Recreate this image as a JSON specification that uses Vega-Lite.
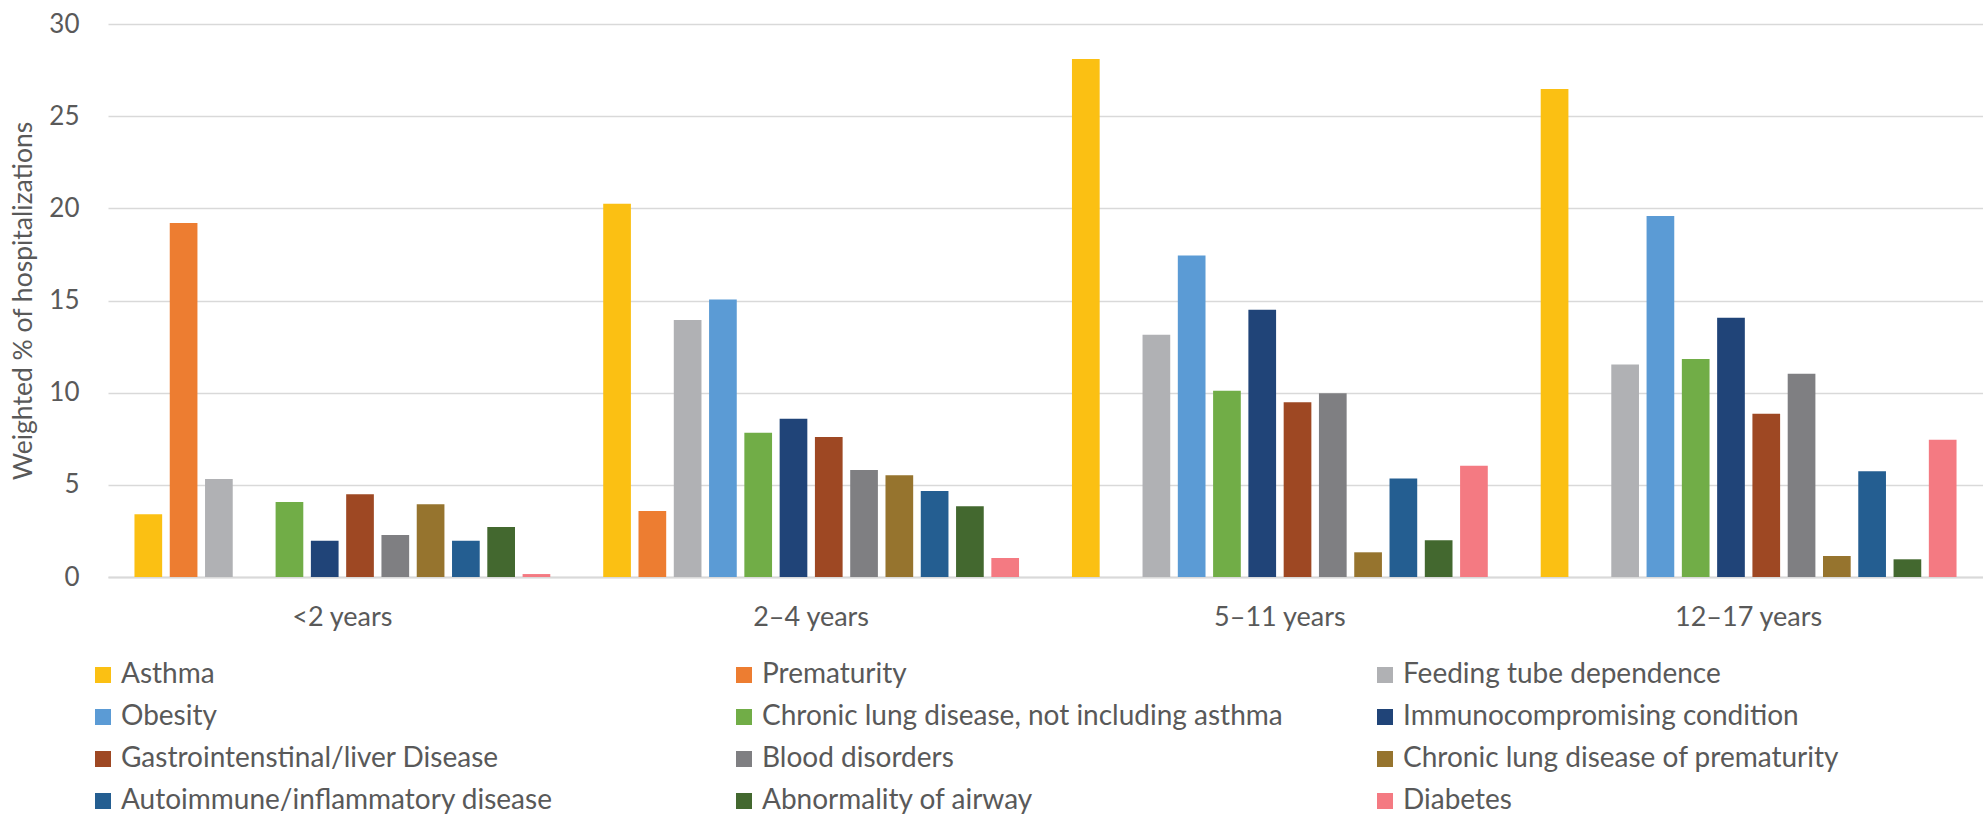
{
  "$schema": "https://vega.github.io/schema/vega-lite/v6.json",
  "autosize": {"type": "none"},
  "padding": {"left": 108, "top": 24, "right": 0, "bottom": 241},
  "width": 1875,
  "height": 553,
  "background": "white",
  "config": {
    "font": "Lato",
    "view": {"stroke": null},
    "axis": {"labelFont": "Lato", "titleFont": "Lato"},
    "legend": {"labelFont": "Lato"}
  },
  "data": {
    "values": [
      {"age": "<2 years", "condition": "Asthma", "pct": 3.4},
      {"age": "<2 years", "condition": "Prematurity", "pct": 19.2},
      {"age": "<2 years", "condition": "Feeding tube dependence", "pct": 5.32},
      {"age": "<2 years", "condition": "Chronic lung disease, not including asthma", "pct": 4.07},
      {"age": "<2 years", "condition": "Immunocompromising condition", "pct": 1.97},
      {"age": "<2 years", "condition": "Gastrointenstinal/liver Disease", "pct": 4.49},
      {"age": "<2 years", "condition": "Blood disorders", "pct": 2.28},
      {"age": "<2 years", "condition": "Chronic lung disease of prematurity", "pct": 3.95},
      {"age": "<2 years", "condition": "Autoimmune/inflammatory disease", "pct": 1.97},
      {"age": "<2 years", "condition": "Abnormality of airway", "pct": 2.71},
      {"age": "<2 years", "condition": "Diabetes", "pct": 0.16},
      {"age": "2–4 years", "condition": "Asthma", "pct": 20.25},
      {"age": "2–4 years", "condition": "Prematurity", "pct": 3.58},
      {"age": "2–4 years", "condition": "Feeding tube dependence", "pct": 13.94},
      {"age": "2–4 years", "condition": "Obesity", "pct": 15.06},
      {"age": "2–4 years", "condition": "Chronic lung disease, not including asthma", "pct": 7.82},
      {"age": "2–4 years", "condition": "Immunocompromising condition", "pct": 8.58},
      {"age": "2–4 years", "condition": "Gastrointenstinal/liver Disease", "pct": 7.6},
      {"age": "2–4 years", "condition": "Blood disorders", "pct": 5.8},
      {"age": "2–4 years", "condition": "Chronic lung disease of prematurity", "pct": 5.52},
      {"age": "2–4 years", "condition": "Autoimmune/inflammatory disease", "pct": 4.67},
      {"age": "2–4 years", "condition": "Abnormality of airway", "pct": 3.84},
      {"age": "2–4 years", "condition": "Diabetes", "pct": 1.03},
      {"age": "5–11 years", "condition": "Asthma", "pct": 28.1},
      {"age": "5–11 years", "condition": "Feeding tube dependence", "pct": 13.14},
      {"age": "5–11 years", "condition": "Obesity", "pct": 17.44},
      {"age": "5–11 years", "condition": "Chronic lung disease, not including asthma", "pct": 10.1},
      {"age": "5–11 years", "condition": "Immunocompromising condition", "pct": 14.5},
      {"age": "5–11 years", "condition": "Gastrointenstinal/liver Disease", "pct": 9.48},
      {"age": "5–11 years", "condition": "Blood disorders", "pct": 9.97},
      {"age": "5–11 years", "condition": "Chronic lung disease of prematurity", "pct": 1.34},
      {"age": "5–11 years", "condition": "Autoimmune/inflammatory disease", "pct": 5.35},
      {"age": "5–11 years", "condition": "Abnormality of airway", "pct": 1.99},
      {"age": "5–11 years", "condition": "Diabetes", "pct": 6.03},
      {"age": "12–17 years", "condition": "Asthma", "pct": 26.47},
      {"age": "12–17 years", "condition": "Feeding tube dependence", "pct": 11.53},
      {"age": "12–17 years", "condition": "Obesity", "pct": 19.58},
      {"age": "12–17 years", "condition": "Chronic lung disease, not including asthma", "pct": 11.82},
      {"age": "12–17 years", "condition": "Immunocompromising condition", "pct": 14.06},
      {"age": "12–17 years", "condition": "Gastrointenstinal/liver Disease", "pct": 8.85},
      {"age": "12–17 years", "condition": "Blood disorders", "pct": 11.02},
      {"age": "12–17 years", "condition": "Chronic lung disease of prematurity", "pct": 1.14},
      {"age": "12–17 years", "condition": "Autoimmune/inflammatory disease", "pct": 5.74},
      {"age": "12–17 years", "condition": "Abnormality of airway", "pct": 0.96},
      {"age": "12–17 years", "condition": "Diabetes", "pct": 7.45}
    ]
  },
  "mark": {"type": "bar"},
  "encoding": {
    "x": {
      "field": "age",
      "type": "nominal",
      "sort": ["<2 years", "2–4 years", "5–11 years", "12–17 years"],
      "scale": {"paddingInner": 0, "paddingOuter": 0},
      "axis": {
        "title": null,
        "labelAngle": 0,
        "ticks": false,
        "labelPadding": 27,
        "labelFontSize": 27,
        "labelColor": "#595959",
        "domainColor": "#d9d9d9",
        "domainWidth": 2
      }
    },
    "xOffset": {
      "field": "condition",
      "type": "nominal",
      "scale": {
        "domain": ["Asthma", "Prematurity", "Feeding tube dependence", "Obesity", "Chronic lung disease, not including asthma", "Immunocompromising condition", "Gastrointenstinal/liver Disease", "Blood disorders", "Chronic lung disease of prematurity", "Autoimmune/inflammatory disease", "Abnormality of airway", "Diabetes"],
        "paddingInner": 0.215,
        "paddingOuter": 0.75
      }
    },
    "y": {
      "field": "pct",
      "type": "quantitative",
      "scale": {"domain": [0, 30], "nice": false},
      "axis": {
        "title": "Weighted % of hospitalizations",
        "titleFontSize": 26.5,
        "titleFontWeight": "normal",
        "titleColor": "#595959",
        "titlePadding": 11,
        "values": [0, 5, 10, 15, 20, 25, 30],
        "labelFontSize": 26,
        "labelColor": "#595959",
        "labelPadding": 29,
        "ticks": false,
        "domain": false,
        "gridColor": "#d9d9d9",
        "gridWidth": 1.5
      }
    },
    "color": {
      "field": "condition",
      "type": "nominal",
      "scale": {
        "domain": ["Asthma", "Obesity", "Gastrointenstinal/liver Disease", "Autoimmune/inflammatory disease", "Prematurity", "Chronic lung disease, not including asthma", "Blood disorders", "Abnormality of airway", "Feeding tube dependence", "Immunocompromising condition", "Chronic lung disease of prematurity", "Diabetes"],
        "range": ["#FBC013", "#5B9BD5", "#9E4823", "#245E91", "#ED7D31", "#71AD47", "#7F7F82", "#43682F", "#B0B1B4", "#204478", "#96742E", "#F47A82"]
      },
      "legend": {
        "title": null,
        "orient": "none",
        "legendX": -19,
        "legendY": 637,
        "columns": 3,
        "gridAlign": "all",
        "columnPadding": 88,
        "rowPadding": 14,
        "padding": 0,
        "symbolType": "square",
        "symbolSize": 256,
        "symbolStrokeWidth": 0,
        "labelFontSize": 28,
        "labelColor": "#595959",
        "labelOffset": 4,
        "labelLimit": 800
      }
    }
  }
}
